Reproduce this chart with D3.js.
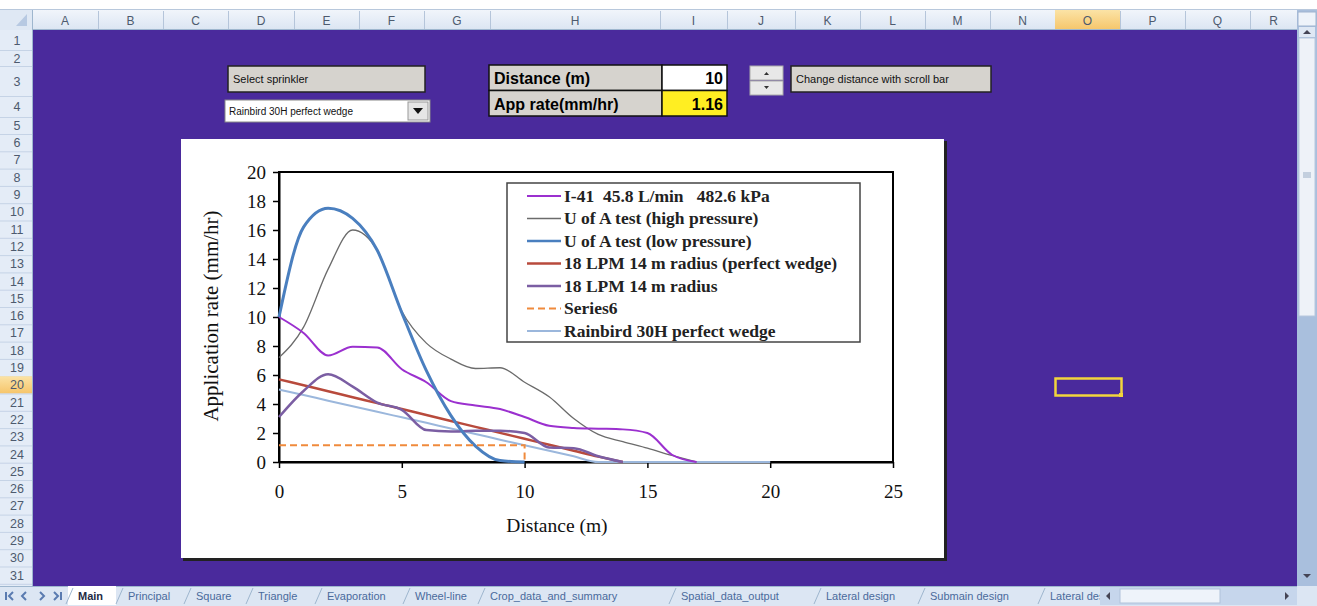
<!DOCTYPE html>
<html><head><meta charset="utf-8">
<script src="https://cdn.jsdelivr.net/npm/d3@7"></script>
<style>
html,body{margin:0;padding:0;background:#fff;overflow:hidden}
svg{display:block}
</style></head>
<body>
<script>
// ---------------- DATA ----------------
const distance = [0,1,2,3,4,5,6,7,8,9,10,11,12,13,14,15,16,17,18,19,20];
const seriesNames = [
  "I-41  45.8 L/min   482.6 kPa",
  "U of A test (high pressure)",
  "U of A test (low pressure)",
  "18 LPM 14 m radius (perfect wedge)",
  "18 LPM 14 m radius",
  "Series6",
  "Rainbird 30H perfect wedge"
];
const i41      = [10,8.9,7.35,7.95,7.9,6.4,5.5,4.2,3.9,3.65,3.1,2.5,2.35,2.3,2.25,2.0,0.5,0,null,null,null];
const uaHigh   = [7.2,9.3,13.3,16.0,14.6,10.4,8.2,7.1,6.45,6.5,5.5,4.5,3.0,1.9,1.4,0.95,0.45,0,null,null,null];
const uaLow    = [10,16.2,17.5,16.8,14.6,10.3,6.3,3.2,1.1,0.1,0,null,null,null,null,null,null,null,null,null,null];
const lpmWedge = [5.7,5.29,4.88,4.47,4.06,3.65,3.24,2.83,2.42,2.01,1.6,1.19,0.78,0.37,0,null,null,null,null,null,null];
const lpm14    = [3.1,4.9,6.05,5.2,4.1,3.6,2.2,2.1,2.15,2.15,2.0,1.0,0.95,0.4,0,null,null,null,null,null,null];
const rainbird = [5.0,4.62,4.23,3.85,3.46,3.08,2.7,2.31,1.93,1.54,1.16,0.77,0.39,0,0,0,0,0,0,0,0];
const series6X = [0,10,10];
const series6Y = [1.16,1.16,0];
const xTicks = [0,5,10,15,20,25];
const yTicks = [0,2,4,6,8,10,12,14,16,18,20];

const selectedDistance = "10";
const appRate = "1.16";
const selectedSprinkler = "Rainbird 30H perfect wedge";

const colLetters = ["A","B","C","D","E","F","G","H","I","J","K","L","M","N","O","P","Q","R"];
const colEdges   = [32,98,163,228,294,359,424,490,660,727,795,860,925,990,1055,1120,1185,1250,1297];
const rowEdges   = [30,50,66,96,117,134];
for(let i=6;i<=31;i++) rowEdges.push(134+(i-5)*17.3);
const sheetTabs = ["Main","Principal","Square","Triangle","Evaporation","Wheel-line","Crop_data_and_summary","Spatial_data_output","Lateral design","Submain design","Lateral des"];
const tabX      = [78,128,196,258,327,415,490,681,826,930,1050];

// ---------------- DRAW ----------------
const W=1317,H=606;
const svg=d3.select("body").append("svg").attr("width",W).attr("height",H);
const defs=svg.append("defs");
const g1=defs.append("linearGradient").attr("id","hdr").attr("x1",0).attr("y1",0).attr("x2",0).attr("y2",1);
g1.append("stop").attr("offset",0).attr("stop-color","#f1f5fb");
g1.append("stop").attr("offset",1).attr("stop-color","#dbe5f2");
const g2=defs.append("linearGradient").attr("id","hdrSel").attr("x1",0).attr("y1",0).attr("x2",0).attr("y2",1);
g2.append("stop").attr("offset",0).attr("stop-color","#fbe3a6");
g2.append("stop").attr("offset",1).attr("stop-color","#f6c56a");

// top strip
svg.append("rect").attr("x",0).attr("y",0).attr("width",W).attr("height",10).attr("fill","#ffffff");
svg.append("line").attr("x1",0).attr("x2",W).attr("y1",9.5).attr("y2",9.5).attr("stroke","#b8c8dc");
// sheet body
svg.append("rect").attr("x",32).attr("y",30).attr("width",1265).attr("height",556).attr("fill","#4a2a9c");

// column header
svg.append("rect").attr("x",0).attr("y",10).attr("width",1297).attr("height",20).attr("fill","url(#hdr)");
colLetters.forEach((c,i)=>{
  const x0=colEdges[i],x1=colEdges[i+1];
  if(c==="O") svg.append("rect").attr("x",x0).attr("y",10).attr("width",x1-x0).attr("height",20).attr("fill","url(#hdrSel)");
  svg.append("line").attr("x1",x1+0.5).attr("x2",x1+0.5).attr("y1",11).attr("y2",30).attr("stroke","#b5c5da");
  svg.append("text").attr("x",(x0+x1)/2).attr("y",25).attr("text-anchor","middle")
    .attr("font-family","Liberation Sans, Arial").attr("font-size",12).attr("fill","#4d5a6e").text(c);
});
svg.append("line").attr("x1",0).attr("x2",1297).attr("y1",29.5).attr("y2",29.5).attr("stroke","#9eb6ce");
// corner
svg.append("rect").attr("x",0).attr("y",10).attr("width",32).attr("height",20).attr("fill","#dfe8f4");
svg.append("path").attr("d","M27,14 L27,26 L16,26 Z").attr("fill","#b7c9e2");

// row header
svg.append("rect").attr("x",0).attr("y",30).attr("width",32).attr("height",556).attr("fill","#e4ecf7");
for(let r=1;r<=31;r++){
  const y0=rowEdges[r-1],y1=rowEdges[r];
  if(r===20) svg.append("rect").attr("x",0).attr("y",y0).attr("width",32).attr("height",y1-y0).attr("fill","url(#hdrSel)");
  svg.append("line").attr("x1",0).attr("x2",32).attr("y1",y1+0.5).attr("y2",y1+0.5).attr("stroke","#c5d3e6");
  svg.append("text").attr("x",17).attr("y",(y0+y1)/2+4.5).attr("text-anchor","middle")
    .attr("font-family","Liberation Sans, Arial").attr("font-size",12.5).attr("fill","#4d5a6e").text(r);
}
svg.append("line").attr("x1",32.5).attr("x2",32.5).attr("y1",10).attr("y2",586).attr("stroke","#9eb6ce");

// ---- controls ----
function button(x,y,w,h,label,fs){
  svg.append("rect").attr("x",x).attr("y",y).attr("width",w).attr("height",h).attr("fill","#d6d3ce").attr("stroke","#222").attr("stroke-width",1.5);
  svg.append("text").attr("x",x+5).attr("y",y+h/2+4).attr("font-family","Liberation Sans, Arial").attr("font-size",fs).attr("fill","#111").text(label);
}
button(228,66,197,26,"Select sprinkler",11);
// dropdown
svg.append("rect").attr("x",225).attr("y",100).attr("width",205).attr("height",22).attr("fill","#fff").attr("stroke","#888");
svg.append("text").attr("x",229).attr("y",115).attr("font-family","Liberation Sans, Arial").attr("font-size",10).attr("fill","#111").text(selectedSprinkler);
svg.append("rect").attr("x",408).attr("y",102).attr("width",20).attr("height",18).attr("fill","#e6e6e6").attr("stroke","#999");
svg.append("path").attr("d","M413,108 L423,108 L418,114 Z").attr("fill","#111");

// table
const tbl=[["Distance (m)",selectedDistance,"#ffffff"],["App rate(mm/hr)",appRate,"#ffee22"]];
tbl.forEach((row,i)=>{
  const y=65+i*25.5;
  svg.append("rect").attr("x",489).attr("y",y).attr("width",173).attr("height",25.5).attr("fill","#d6d3ce").attr("stroke","#111").attr("stroke-width",1.5);
  svg.append("rect").attr("x",662).attr("y",y).attr("width",65).attr("height",25.5).attr("fill",row[2]).attr("stroke","#111").attr("stroke-width",1.5);
  svg.append("text").attr("x",494).attr("y",y+19).attr("font-family","Liberation Sans, Arial").attr("font-weight","bold").attr("font-size",16).attr("fill","#000").text(row[0]);
  svg.append("text").attr("x",723).attr("y",y+19).attr("text-anchor","end").attr("font-family","Liberation Sans, Arial").attr("font-weight","bold").attr("font-size",16).attr("fill","#000").text(row[1]);
});
// spinner
svg.append("rect").attr("x",750).attr("y",66).attr("width",33).attr("height",14).attr("fill","#e8e8e8").attr("stroke","#aaa");
svg.append("rect").attr("x",750).attr("y",81).attr("width",33).attr("height",14).attr("fill","#e8e8e8").attr("stroke","#aaa");
svg.append("path").attr("d","M764,75 L769,75 L766.5,72 Z").attr("fill","#333");
svg.append("path").attr("d","M764,86 L769,86 L766.5,89 Z").attr("fill","#333");
button(791,66,200,26,"Change distance with scroll bar",11);

// selection box O20
svg.append("rect").attr("x",1055.5).attr("y",378.5).attr("width",66).attr("height",17).attr("fill","none").attr("stroke","#f2d53c").attr("stroke-width",2.5);
svg.append("rect").attr("x",1119).attr("y",393).attr("width",4).attr("height",4).attr("fill","#f2d53c");

// ---- chart ----
svg.append("rect").attr("x",183).attr("y",141).attr("width",764).attr("height",420).attr("fill","#222");
svg.append("rect").attr("x",181).attr("y",139).attr("width",763).attr("height",419).attr("fill","#ffffff");

const x=d3.scaleLinear().domain([0,25]).range([279,893]);
const y=d3.scaleLinear().domain([0,20]).range([462,172]);

svg.append("rect").attr("x",x(0)).attr("y",y(20)).attr("width",x(25)-x(0)).attr("height",y(0)-y(20))
  .attr("fill","none").attr("stroke","#000").attr("stroke-width",2);

const serif="Liberation Serif, Times New Roman, serif";
const ya=svg.append("g").attr("transform",`translate(${x(0)},0)`)
  .call(d3.axisLeft(y).tickValues(yTicks).tickSize(6).tickSizeOuter(0).tickPadding(7));
const xa=svg.append("g").attr("transform",`translate(0,${y(0)})`)
  .call(d3.axisBottom(x).tickValues(xTicks).tickSize(6).tickSizeOuter(0).tickPadding(17));
[ya,xa].forEach(a=>{
  a.select(".domain").attr("stroke","#000").attr("stroke-width",2);
  a.selectAll(".tick line").attr("stroke","#000").attr("stroke-width",1.5);
  a.selectAll(".tick text").attr("font-family",serif).attr("font-size",19).attr("fill","#111");
});

svg.append("text").attr("transform",`translate(218,316) rotate(-90)`).attr("text-anchor","middle")
  .attr("font-family",serif).attr("font-size",21).attr("fill","#111").text("Application rate (mm/hr)");
svg.append("text").attr("x",557).attr("y",532).attr("text-anchor","middle")
  .attr("font-family",serif).attr("font-size",19.5).attr("fill","#111").text("Distance (m)");

const styles=[
  {data:i41,color:"#9b30cf",w:2},
  {data:uaHigh,color:"#6b6b6b",w:1.3},
  {data:uaLow,color:"#4a7fbf",w:3},
  {data:lpmWedge,color:"#b84a3c",w:2.5},
  {data:lpm14,color:"#7b5ea3",w:2.5},
  {data:null,color:"#f08a3c",w:2,dash:"7,4"},
  {data:rainbird,color:"#9bb7dc",w:2}
];
const line=d3.line().defined(d=>d[1]!=null).x(d=>x(d[0])).y(d=>y(d[1])).curve(d3.curveMonotoneX);
const plotG=svg.append("g");
const order=[6,1,0,3,4,2,5];
order.forEach(k=>{
  const s=styles[k];
  let pts;
  if(k===5){
    pts=series6X.map((v,i)=>[v,series6Y[i]]);
    plotG.append("path").attr("d",d3.line().x(d=>x(d[0])).y(d=>y(d[1]))(pts))
      .attr("fill","none").attr("stroke",s.color).attr("stroke-width",s.w).attr("stroke-dasharray",s.dash);
  } else {
    pts=distance.map((d,i)=>[d,s.data[i]]);
    plotG.append("path").attr("d",line(pts)).attr("fill","none").attr("stroke",s.color)
      .attr("stroke-width",s.w).attr("stroke-linejoin","round");
  }
});

// legend
const lg=svg.append("g");
lg.append("rect").attr("x",507).attr("y",183).attr("width",353).attr("height",159).attr("fill","#fff").attr("stroke","#444").attr("stroke-width",1.5);
seriesNames.forEach((n,i)=>{
  const yy=196+i*22.5;
  const s=styles[i];
  lg.append("line").attr("x1",527).attr("x2",561).attr("y1",yy).attr("y2",yy).attr("stroke",s.color)
    .attr("stroke-width",Math.min(s.w,2.5)).attr("stroke-dasharray",s.dash||null);
  lg.append("text").attr("x",564).attr("y",yy+5.5).attr("font-family",serif).attr("font-weight","bold")
    .attr("font-size",17.5).attr("fill","#222").style("white-space","pre").text(n);
});

// ---- vertical scrollbar ----
svg.append("rect").attr("x",1297).attr("y",10).attr("width",20).attr("height",596).attr("fill","#a9bfdd");
svg.append("rect").attr("x",1298).attr("y",12).attr("width",18).attr("height",14).attr("fill","#eef3fa").attr("stroke","#9fb3cf");
svg.append("rect").attr("x",1299).attr("y",27).attr("width",16).attr("height",10).attr("fill","#dfe8f4");
svg.append("path").attr("d","M1303,34 L1311,34 L1307,30 Z").attr("fill","#445");
svg.append("rect").attr("x",1299).attr("y",38).attr("width",16).attr("height",278).attr("fill","#eef2f8").attr("stroke","#b8c8de");
svg.append("rect").attr("x",1303).attr("y",172).attr("width",8).attr("height",6).attr("fill","#c3cfde");
svg.append("path").attr("d","M1303,574 L1311,574 L1307,578 Z").attr("fill","#445");

// ---- sheet tabs ----
svg.append("rect").attr("x",0).attr("y",586).attr("width",1297).attr("height",20).attr("fill","#dce6f3");
svg.append("line").attr("x1",0).attr("x2",1297).attr("y1",586.5).attr("y2",586.5).attr("stroke","#9eb6ce");
["M6,592 L6,600 M13,592 L9,596 L13,600","M26,592 L22,596 L26,600","M40,592 L44,596 L40,600","M54,592 L58,596 L54,600 M61,592 L61,600"]
  .forEach(d=>svg.append("path").attr("d",d).attr("stroke","#5a7bb0").attr("stroke-width",2).attr("fill","none"));
sheetTabs.forEach((t,i)=>{
  const tx=tabX[i];
  if(i===0){
    svg.append("rect").attr("x",68).attr("y",586).attr("width",48).attr("height",19).attr("fill","#ffffff");
  }
  svg.append("path").attr("d",`M${tx-12},604 L${tx-5},588`).attr("stroke","#9eb6ce").attr("fill","none");
  svg.append("text").attr("x",tx).attr("y",600).attr("font-family","Liberation Sans, Arial")
    .attr("font-size",11).attr("font-weight",i===0?"bold":"normal").attr("fill",i===0?"#1e2a44":"#4a6a9c").text(t);
});
// horizontal scrollbar
svg.append("rect").attr("x",1100).attr("y",587).attr("width",197).attr("height",18).attr("fill","#c6d6ec");
svg.append("path").attr("d","M1110,592 L1106,596 L1110,600 Z").attr("fill","#445");
svg.append("rect").attr("x",1120).attr("y",589).attr("width",100).attr("height",14).attr("fill","#eef3fa").attr("stroke","#b0c2da");
svg.append("path").attr("d","M1285,592 L1289,596 L1285,600 Z").attr("fill","#445");
svg.append("rect").attr("x",1297).attr("y",586).attr("width",20).attr("height",20).attr("fill","#dce6f3");
</script>
</body></html>
